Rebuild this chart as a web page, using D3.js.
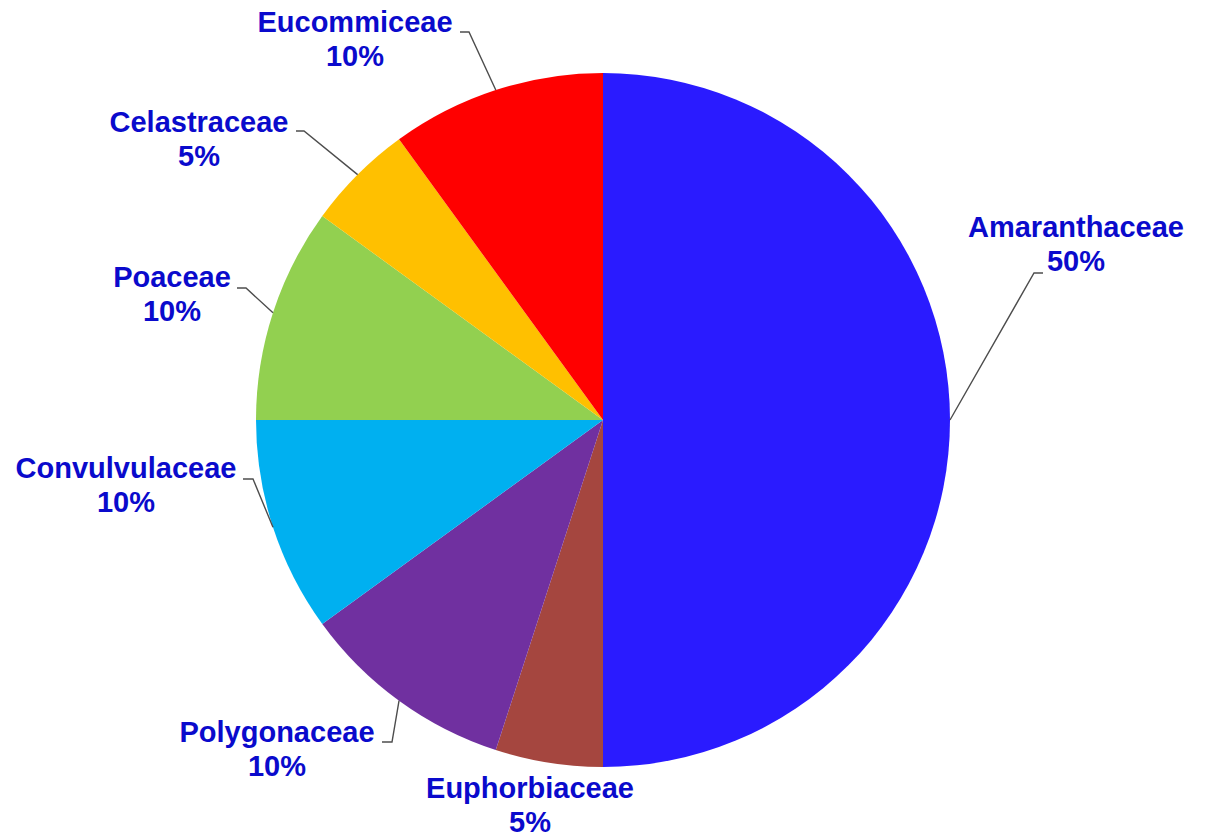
<!DOCTYPE html>
<html>
<head>
<meta charset="utf-8">
<script src="https://cdn.jsdelivr.net/npm/d3@7"></script>
<style>
  html, body { margin: 0; padding: 0; background: #ffffff; }
  svg { display: block; }
  .lbl { font-family: "Liberation Sans", Arial, sans-serif; font-weight: bold; font-size: 29px; fill: #0a0acc; }
</style>
</head>
<body>
<svg id="chart" width="1205" height="839"></svg>
<script>
// Families and their share (%), clockwise from 12 o'clock
const families = ["Amaranthaceae", "Euphorbiaceae", "Polygonaceae", "Convulvulaceae", "Poaceae", "Celastraceae", "Eucommiceae"];
const shares = [50, 5, 10, 10, 10, 5, 10];
const sliceColors = ["#2a1bff", "#a5463f", "#7030a0", "#00b0f0", "#92d050", "#ffc000", "#ff0000"];

// Label placement: text centre x, first baseline y, and the elbow where the leader meets the text
const labelLayout = {
  "Amaranthaceae":  { x: 1076, y: 237, elbow: [1043, 273, 1034, 273] },
  "Euphorbiaceae":  { x: 530,  y: 798, elbow: null },
  "Polygonaceae":   { x: 277,  y: 742, elbow: [382, 742, 392, 742] },
  "Convulvulaceae": { x: 126,  y: 478, elbow: [243, 479, 253, 479] },
  "Poaceae":        { x: 172,  y: 287, elbow: [237, 288, 246, 288] },
  "Celastraceae":   { x: 199,  y: 132, elbow: [296, 131, 304, 131] },
  "Eucommiceae":    { x: 355,  y: 32,  elbow: [460, 32, 469, 32] }
};

const cx = 603, cy = 420, radius = 347, lineGap = 34;

const data = families.map((name, i) => ({ name, value: shares[i], color: sliceColors[i] }));

const pie = d3.pie().value(d => d.value).sort(null);
const arc = d3.arc().innerRadius(0).outerRadius(radius);
const arcs = pie(data);

const svg = d3.select("#chart");
const g = svg.append("g").attr("transform", `translate(${cx},${cy})`);

g.selectAll("path.slice")
  .data(arcs)
  .join("path")
  .attr("class", "slice")
  .attr("d", arc)
  .attr("fill", d => d.data.color);

// Leader lines from the slice's outer mid-point to the label elbow
const leaders = svg.append("g");
arcs.forEach(a => {
  const lay = labelLayout[a.data.name];
  if (!lay.elbow) return;
  const mid = (a.startAngle + a.endAngle) / 2;
  const px = cx + radius * Math.sin(mid);
  const py = cy - radius * Math.cos(mid);
  const [x1, y1, x2, y2] = lay.elbow;
  leaders.append("path")
    .attr("d", `M${x1},${y1}L${x2},${y2}L${px},${py}`)
    .attr("fill", "none")
    .attr("stroke", "#4d4d4d")
    .attr("stroke-width", 1.4);
});

// Category name with percentage underneath
const labels = svg.append("g");
arcs.forEach(a => {
  const lay = labelLayout[a.data.name];
  const t = labels.append("text")
    .attr("class", "lbl")
    .attr("text-anchor", "middle");
  t.append("tspan").attr("x", lay.x).attr("y", lay.y).text(a.data.name);
  t.append("tspan").attr("x", lay.x).attr("y", lay.y + lineGap).text(d3.format(".0%")(a.data.value / 100));
});
</script>
</body>
</html>
